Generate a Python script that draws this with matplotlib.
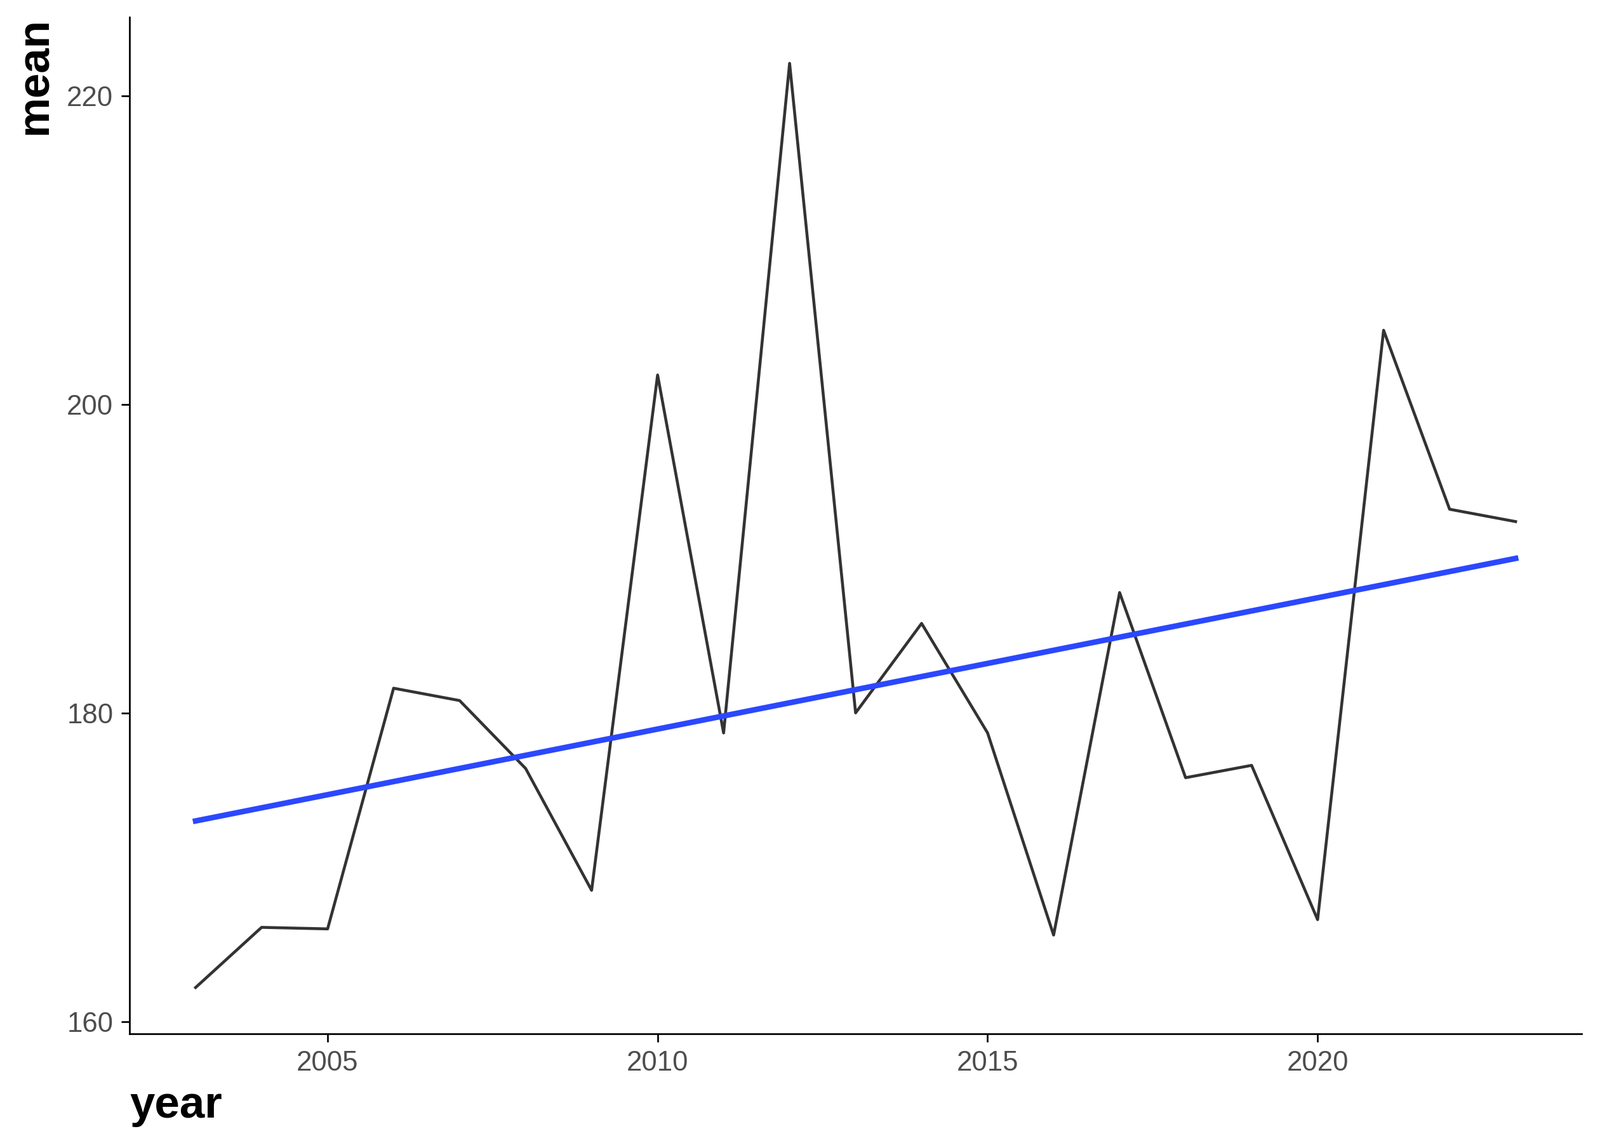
import numpy as np
import matplotlib
matplotlib.use("Agg")
import matplotlib.pyplot as plt

years = [2003, 2004, 2005, 2006, 2007, 2008, 2009, 2010, 2011, 2012, 2013,
         2014, 2015, 2016, 2017, 2018, 2019, 2020, 2021, 2022, 2023]
mean_vals = [162.2, 166.1, 166.0, 181.6, 180.8, 176.4, 168.5, 201.9, 178.7, 222.1, 180.0,
             185.8, 178.7, 165.6, 187.8, 175.8, 176.6, 166.6, 204.8, 193.2, 192.4]
x_ticks = [2005, 2010, 2015, 2020]
y_ticks = [160, 180, 200, 220]

plt.rcParams['font.family'] = ['Liberation Sans', 'DejaVu Sans']

fig = plt.figure(figsize=(8.4, 6.0), dpi=300)
ax = fig.add_axes([0.081, 0.0956, 0.9075, 0.8894])

x = np.array(years, dtype=float)
y = np.array(mean_vals, dtype=float)
ax.plot(x, y, color='#333333', lw=1.1, solid_joinstyle='round', zorder=2)

coef = np.polyfit(x, y, 1)
xs = np.linspace(x.min(), x.max(), 80)
ax.plot(xs, np.polyval(coef, xs), color='#2B48FF', lw=2.1, zorder=3)

xr = x.max() - x.min()
ax.set_xlim(x.min() - 0.05 * xr, x.max() + 0.05 * xr)
yr = y.max() - y.min()
ax.set_ylim(y.min() - 0.05 * yr, y.max() + 0.05 * yr)

ax.set_xticks(x_ticks)
ax.set_yticks(y_ticks)
ax.set_xticklabels([str(v) for v in x_ticks])
ax.set_yticklabels([str(v) for v in y_ticks])

for s in ['top', 'right']:
    ax.spines[s].set_visible(False)
for s in ['left', 'bottom']:
    ax.spines[s].set_linewidth(0.65)
    ax.spines[s].set_color('black')

ax.tick_params(axis='both', length=3.2, width=0.65, color='black',
               labelsize=10.5, labelcolor='#4D4D4D', pad=3)

ax.set_xlabel('year', fontsize=17, fontweight='bold', loc='left', labelpad=3.5)
ax.set_ylabel('mean', fontsize=17, fontweight='bold', loc='top', labelpad=4)

fig.savefig('out.png', dpi=300, facecolor='white')
